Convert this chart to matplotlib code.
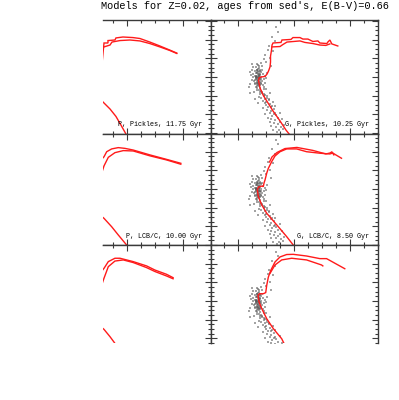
import matplotlib
matplotlib.use("Agg")
import matplotlib.pyplot as plt
from matplotlib.ticker import MultipleLocator

# ---------------- data ----------------
title_text = "Models for Z=0.02, ages from sed's, E(B-V)=0.66"
panel_labels = [["P, Pickles, 11.75 Gyr", "G, Pickles, 10.25 Gyr"],
                ["P, LCB/C, 10.00 Gyr", "G, LCB/C, 8.50 Gyr"],
                ["", ""]]

# observed stars, G panels: dense cluster core + main sequence (colour, magnitude)
star_G_x = [2.33, 2.36, 2.35, 2.38, 2.31, 2.34, 2.37, 2.40, 2.32, 2.36, 2.39, 2.30, 2.42, 2.35, 2.33,
            2.38, 2.28, 2.44, 2.29, 2.41, 2.36, 2.26, 2.45, 2.32, 2.39, 2.27, 2.43, 2.34, 2.30, 2.47,
            2.24, 2.37, 2.48, 2.25, 2.40, 2.31, 2.46, 2.22, 2.35, 2.37, 2.34, 2.36, 2.33, 2.39, 2.35,
            2.38, 2.31, 2.41, 2.29, 2.44, 2.20, 2.50, 2.27, 2.43, 2.33, 2.21, 2.52, 2.19, 2.49, 2.40,
            2.34, 2.35, 2.36, 2.33, 2.37, 2.35, 2.34, 2.36, 2.38, 2.32, 2.35, 2.37, 2.33, 2.36, 2.34,
            2.39, 2.31, 2.35, 2.37, 2.34, 2.32, 2.38, 2.36, 2.40, 2.33, 2.35, 2.37, 2.30, 2.41, 2.34,
            2.42, 2.38, 2.45, 2.48, 2.41, 2.47, 2.52, 2.44, 2.50, 2.55, 2.49, 2.56, 2.53, 2.60, 2.51,
            2.58, 2.63, 2.57, 2.64, 2.61, 2.68, 2.59, 2.66, 2.71, 2.63, 2.70, 2.74, 2.67, 2.76, 2.72,
            2.80, 2.69, 2.36, 2.56, 2.62, 2.44, 2.74, 2.53, 2.82, 2.58, 2.35, 2.66, 2.48, 2.78, 2.62,
            2.43, 2.46, 2.51, 2.39, 2.54, 2.47, 2.59, 2.45, 2.65, 2.57,
            2.50, 2.56, 2.48, 2.62, 2.55, 2.66, 2.60, 2.70, 2.45, 2.58, 2.53, 2.68, 2.25, 2.20, 2.28,
            2.30]
star_G_y = [15.95, 16.05, 15.85, 16.15, 16.10, 16.25, 15.75, 16.00, 15.80, 16.35, 15.90, 15.95, 16.20, 16.45, 15.65,
            15.60, 16.20, 15.85, 15.70, 16.40, 15.50, 16.00, 16.10, 16.55, 16.60, 15.85, 15.65, 16.70, 16.40, 16.30,
            16.15, 15.40, 15.95, 15.60, 16.75, 15.45, 16.55, 15.90, 16.15, 16.00, 16.05, 15.92, 16.30, 16.25, 15.70,
            16.45, 16.00, 15.75, 16.30, 16.45, 16.35, 16.05, 15.45, 15.40, 15.30, 15.75, 15.80, 16.55, 16.65, 15.25,
            15.98, 16.08, 15.88, 16.18, 15.95, 16.22, 15.78, 16.12, 15.83, 16.03, 16.32, 16.28, 15.72, 16.40, 15.62,
            16.08, 15.92, 15.55, 16.50, 16.60, 15.98, 15.68, 16.68, 16.30, 16.48, 15.35, 15.85, 16.15, 16.12, 16.38,
            16.85, 16.90, 17.00, 16.95, 17.10, 17.20, 17.10, 17.30, 17.35, 17.25, 17.50, 17.45, 17.60, 17.55, 17.75,
            17.80, 17.70, 17.95, 18.00, 18.10, 18.05, 18.25, 18.30, 18.20, 18.45, 18.50, 18.40, 18.65, 18.70, 18.85,
            18.80, 18.95, 17.05, 16.85, 17.35, 17.65, 17.90, 18.20, 18.55, 18.60, 17.40, 17.55, 18.00, 18.25, 18.85,
            16.78, 16.92, 17.02, 16.80, 17.18, 17.40, 17.62, 16.65, 17.92, 18.40,
            15.20, 15.00, 14.80, 14.60, 14.35, 14.10, 13.85, 13.60, 15.05, 15.40, 14.55, 13.35, 15.30, 16.85, 16.80,
            17.20]

# faint field stars, G panels
field_G_x = [1.85, 2.05, 1.95, 3.10, 3.40, 3.85, 2.95, 3.60, 4.10, 1.72, 2.10, 3.25, 2.90, 3.70,
             4.25, 2.15, 3.05, 3.50, 1.80, 2.00, 2.85, 3.95, 3.30, 2.75, 2.95]
field_G_y = [14.20, 17.60, 18.40, 16.80, 17.50, 15.90, 14.70, 18.30, 17.20, 16.40, 13.70, 15.30, 18.00, 14.40,
             16.10, 18.70, 13.40, 16.30, 17.80, 15.50, 16.20, 18.70, 18.90, 15.70, 17.30]

# faint field stars, P panels
star_P_x = [2.62, 2.70, 2.65, 2.80, 2.68, 2.90, 3.05, 2.75, 3.20, 2.60,
            3.40, 2.85, 3.60, 2.72, 3.10, 2.95, 4.00, 3.80, 2.64, 3.30]
star_P_y = [16.10, 16.60, 17.30, 15.20, 18.10, 16.90, 17.80, 14.60, 16.40, 15.60,
            18.50, 18.60, 17.00, 17.70, 15.00, 16.20, 18.20, 15.80, 18.80, 17.40]

# ---- row 1: Pickles ----
r1_P_ms_x = [2.539, 2.700, 2.807, 2.896, 2.986, 3.021]
r1_P_ms_y = [17.23, 17.71, 18.11, 18.57, 19.05, 19.37]
r1_P_a_x = [2.560, 2.593, 2.664, 2.664, 2.789, 2.807, 2.932, 3.111, 3.236, 3.414, 3.593, 3.771, 3.896]
r1_P_a_y = [15.20, 14.18, 14.18, 14.05, 14.02, 13.91, 13.86, 13.89, 13.94, 14.13, 14.34, 14.56, 14.72]
r1_P_b_x = [2.593, 2.700, 2.736, 2.879, 3.057, 3.236, 3.414, 3.593, 3.771, 3.896]
r1_P_b_y = [14.39, 14.29, 14.13, 14.05, 14.02, 14.07, 14.21, 14.39, 14.58, 14.74]

r1_G_a_x = [2.995, 2.852, 2.745, 2.620, 2.530, 2.441, 2.388, 2.361, 2.370, 2.405, 2.477, 2.513, 2.539,
            2.566, 2.575, 2.575, 2.593, 2.602, 2.620, 2.763, 2.780, 2.941, 2.977, 3.102, 3.155, 3.245,
            3.334, 3.423, 3.459, 3.584, 3.602, 3.638, 3.673, 3.780]
r1_G_a_y = [19.37, 18.84, 18.35, 17.82, 17.39, 16.96, 16.59, 16.21, 16.05, 16.00, 15.97, 15.84, 15.68,
            15.46, 15.20, 14.88, 14.56, 14.29, 14.18, 14.15, 14.02, 13.99, 13.89, 13.89, 13.97, 13.97,
            14.10, 14.07, 14.18, 14.21, 14.13, 14.02, 14.23, 14.34]
r1_G_b_x = [2.602, 2.745, 2.798, 2.870, 3.102, 3.191, 3.334, 3.459, 3.566, 3.638]
r1_G_b_y = [14.39, 14.37, 14.26, 14.13, 14.07, 14.15, 14.21, 14.29, 14.31, 14.23]

# ---- row 2: LCB/C ----
r2_P_ms_x = [2.539, 2.593, 2.730, 2.848, 2.998, 3.021]
r2_P_ms_y = [17.44, 17.57, 18.02, 18.46, 19.00, 19.10]
r2_P_a_x = [2.539, 2.593, 2.641, 2.730, 2.848, 2.968, 3.116, 3.414, 3.713, 3.968]
r2_P_a_y = [14.44, 14.27, 14.00, 13.85, 13.78, 13.82, 13.91, 14.17, 14.41, 14.62]
r2_P_b_x = [2.557, 2.593, 2.670, 2.789, 2.938, 3.116, 3.414, 3.713, 3.968]
r2_P_b_y = [15.09, 14.76, 14.30, 14.05, 13.94, 13.96, 14.22, 14.44, 14.67]

r2_G_a_x = [3.013, 2.982, 2.864, 2.686, 2.507, 2.418, 2.357, 2.339, 2.357, 2.418, 2.446, 2.459, 2.477,
            2.507, 2.536, 2.596, 2.655, 2.745, 2.864, 3.043, 3.221, 3.459, 3.638, 3.691, 3.745, 3.846]
r2_G_a_y = [19.26, 19.00, 18.55, 17.92, 17.30, 16.85, 16.41, 16.05, 15.90, 15.84, 15.87, 15.67, 15.51,
            15.15, 14.89, 14.53, 14.23, 14.00, 13.85, 13.85, 14.00, 14.08, 14.12, 14.07, 14.17, 14.35]
r2_G_b_x = [2.557, 2.602, 2.691, 2.834, 3.048, 3.334, 3.566, 3.638, 3.673, 3.709]
r2_G_b_y = [14.55, 14.28, 14.04, 13.83, 13.77, 13.93, 14.12, 14.07, 14.01, 14.17]

# ---- row 3 ----
r3_P_ms_x = [2.539, 2.593, 2.700, 2.789, 2.843]
r3_P_ms_y = [17.39, 17.52, 17.91, 18.27, 18.52]
r3_P_a_x = [2.539, 2.593, 2.670, 2.789, 2.879, 3.116, 3.355, 3.504, 3.713, 3.830]
r3_P_a_y = [14.45, 14.25, 13.89, 13.71, 13.71, 13.89, 14.12, 14.34, 14.57, 14.75]
r3_P_b_x = [2.557, 2.593, 2.670, 2.789, 2.938, 3.116, 3.355, 3.504, 3.713, 3.830]
r3_P_b_y = [15.09, 14.78, 14.16, 13.86, 13.80, 13.94, 14.21, 14.42, 14.66, 14.81]

r3_G_a_x = [2.816, 2.775, 2.625, 2.507, 2.418, 2.370, 2.352, 2.375, 2.446, 2.489, 2.507, 2.536, 2.579,
            2.655, 2.745, 2.864, 2.982, 3.221, 3.459, 3.579, 3.905]
r3_G_a_y = [18.27, 18.02, 17.48, 16.95, 16.41, 16.06, 15.70, 15.61, 15.61, 15.55, 15.16, 14.72, 14.36,
            13.91, 13.64, 13.51, 13.50, 13.59, 13.73, 13.73, 14.27]
r3_G_b_x = [2.566, 2.655, 2.775, 2.954, 3.221, 3.489, 3.512]
r3_G_b_y = [14.52, 14.07, 13.80, 13.71, 13.80, 14.07, 14.12]

# ---------------- layout ----------------
W, H = 399, 400
fig = plt.figure(figsize=(W / 100, H / 100), dpi=100)

rows = [(20, 134, (19.05, 12.95)), (134, 245, (19.0, 13.05)), (245, 343, (18.25, 13.0))]
cols = [(103, 210.5, (2.575, 4.5)), (210.5, 378, (1.5, 4.5))]

lines = [
    [[(r1_P_ms_x, r1_P_ms_y), (r1_P_a_x, r1_P_a_y), (r1_P_b_x, r1_P_b_y)],
     [(r1_G_a_x, r1_G_a_y), (r1_G_b_x, r1_G_b_y)]],
    [[(r2_P_ms_x, r2_P_ms_y), (r2_P_a_x, r2_P_a_y), (r2_P_b_x, r2_P_b_y)],
     [(r2_G_a_x, r2_G_a_y), (r2_G_b_x, r2_G_b_y)]],
    [[(r3_P_ms_x, r3_P_ms_y), (r3_P_a_x, r3_P_a_y), (r3_P_b_x, r3_P_b_y)],
     [(r3_G_a_x, r3_G_a_y), (r3_G_b_x, r3_G_b_y)]],
]

spine_col = "#3a3a3a"
mono = ["Liberation Mono", "DejaVu Sans Mono"]

for ri, (y0, y1, ylim) in enumerate(rows):
    for ci, (x0, x1, xlim) in enumerate(cols):
        ax = fig.add_axes([x0 / W, 1 - y1 / H, (x1 - x0) / W, (y1 - y0) / H])
        ax.set_xlim(*xlim)
        ax.set_ylim(*ylim)
        ax.xaxis.set_major_locator(MultipleLocator(1))
        ax.xaxis.set_minor_locator(MultipleLocator(0.25))
        ax.yaxis.set_major_locator(MultipleLocator(1))
        ax.yaxis.set_minor_locator(MultipleLocator(0.25))
        bottom_on = ri < 2
        left_on = ci == 1
        ax.tick_params(which="both", direction="in", top=True, right=True,
                       bottom=bottom_on, left=left_on,
                       labelbottom=False, labelleft=False, color=spine_col, width=0.8)
        ax.tick_params(which="major", length=4.2)
        ax.tick_params(which="minor", length=2.2)
        for s in ax.spines.values():
            s.set_color(spine_col)
            s.set_linewidth(1.0)
        if not left_on:
            ax.spines["left"].set_visible(False)
        if not bottom_on:
            ax.spines["bottom"].set_visible(False)

        if ci == 1:
            ax.scatter(field_G_x, field_G_y, s=0.5, c="0.7", alpha=0.6, linewidths=0, marker="s")
            ax.scatter(star_G_x, star_G_y, s=0.7, c="0.35", alpha=0.55, linewidths=0, marker="s")
        else:
            ax.scatter(star_P_x, star_P_y, s=0.5, c="0.7", alpha=0.6, linewidths=0, marker="s")
        for lx, ly in lines[ri][ci]:
            ax.plot(lx, ly, color="#ff1a1a", lw=1.0, solid_joinstyle="miter")

        lab = panel_labels[ri][ci]
        if lab:
            fig.text((x1 - 8.8) / W, 1 - (y1 - 9.0) / H, lab, ha="right", va="center",
                     fontsize=4.9, family=mono)

fig.text(244.5 / W, 1 - 6.0 / H, title_text, ha="center", va="center",
         fontsize=7.4, family=mono)

fig.savefig("out.png", dpi=100)
